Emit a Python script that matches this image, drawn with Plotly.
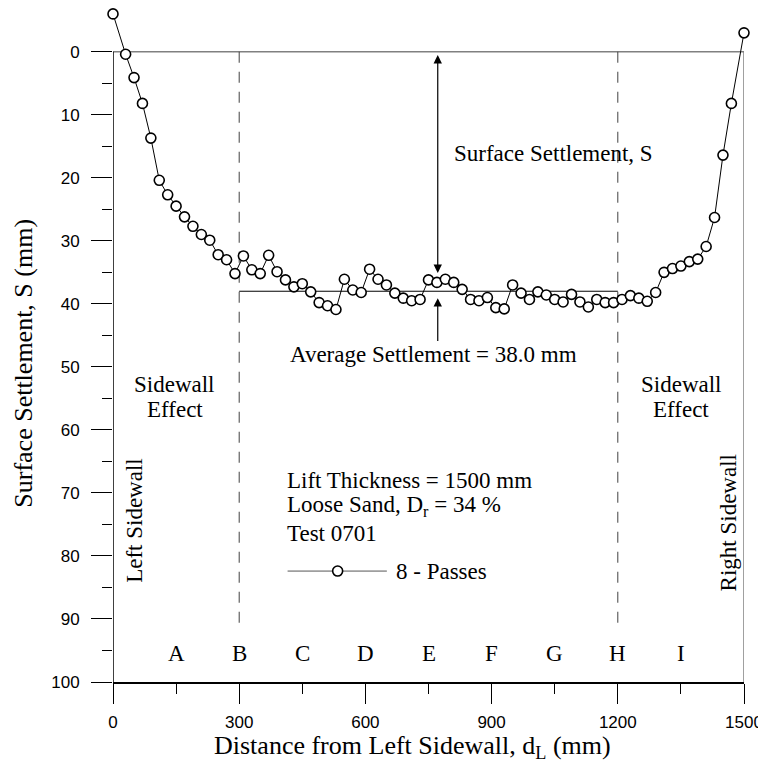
import plotly.graph_objects as go

# ---------------- data ----------------
distance_mm = [0, 30, 50, 70, 90, 110, 130, 150, 170, 190, 210, 230, 250, 270, 290,
               310, 330, 350, 370, 390, 410, 430, 450, 470, 490, 510, 530, 550, 570, 590,
               610, 630, 650, 670, 690, 710, 730, 750, 770, 790, 810, 830, 850, 870, 890,
               910, 930, 950, 970, 990, 1010, 1030, 1050, 1070, 1090, 1110, 1130, 1150, 1170, 1190,
               1210, 1230, 1250, 1270, 1290, 1310, 1330, 1350, 1370, 1390, 1410, 1430, 1450, 1470, 1500]
settlement_mm = [-6.0, 0.4, 4.1, 8.2, 13.7, 20.4, 22.7, 24.5, 26.2, 27.7, 29.0, 29.9, 32.2, 33.0, 35.2,
                 32.4, 34.6, 35.2, 32.3, 34.9, 36.2, 37.3, 36.8, 38.1, 39.8, 40.3, 40.9, 36.1, 37.8, 38.2,
                 34.5, 36.1, 37.0, 38.3, 39.1, 39.5, 39.3, 36.2, 36.6, 36.1, 36.6, 37.7, 39.3, 39.5, 39.0,
                 40.6, 40.8, 37.0, 38.3, 39.3, 38.1, 38.6, 39.3, 39.7, 38.5, 39.7, 40.5, 39.3, 39.8, 39.8,
                 39.3, 38.7, 39.1, 39.6, 38.2, 35.0, 34.4, 34.0, 33.3, 32.9, 30.9, 26.3, 16.4, 8.2, -3.0]

x_tick_vals = [0, 300, 600, 900, 1200, 1500]
x_minor_vals = [150, 450, 750, 1050, 1350]
y_tick_vals = [0, 10, 20, 30, 40, 50, 60, 70, 80, 90, 100]
y_minor_vals = [5, 15, 25, 35, 45, 55, 65, 75, 85, 95]

section_labels = ["A", "B", "C", "D", "E", "F", "G", "H", "I"]
section_positions = [150, 300, 450, 600, 750, 900, 1050, 1200, 1350]

average_settlement = 38.0
sidewall_zone_bounds = [300, 1200]
series_name = "8 - Passes"

SERIF = "Liberation Serif, Times New Roman, serif"
SANS = "Liberation Sans, Arial, sans-serif"
ANN = 23

fig = go.Figure()

# main series
fig.add_trace(go.Scatter(
    x=distance_mm, y=settlement_mm, mode="lines+markers", name=series_name,
    line=dict(color="black", width=1),
    marker=dict(symbol="circle", size=10, color="white", line=dict(color="black", width=1.6)),
    cliponaxis=False, showlegend=False))

# legend key marker
fig.add_trace(go.Scatter(
    x=[534], y=[82.4], mode="markers", showlegend=False, hoverinfo="skip",
    marker=dict(symbol="circle", size=10, color="white", line=dict(color="black", width=1.6)),
    cliponaxis=False))

shapes = []
# frame: left axis (black), top & right (gray)
shapes.append(dict(type="line", xref="x", yref="y", x0=0, x1=0, y0=0, y1=100,
                   line=dict(color="black", width=1.5), layer="above"))
shapes.append(dict(type="line", xref="x", yref="y", x0=0, x1=1500, y0=0, y1=0,
                   line=dict(color="#808080", width=1.5), layer="below"))
shapes.append(dict(type="line", xref="x", yref="y", x0=1500, x1=1500, y0=0, y1=100,
                   line=dict(color="#808080", width=1.5), layer="below"))
# sidewall-effect boundaries
for xb in sidewall_zone_bounds:
    shapes.append(dict(type="line", xref="x", yref="y", x0=xb, x1=xb, y0=0, y1=91.3,
                       line=dict(color="#404040", width=1, dash="11px,9px"), layer="below"))
# average settlement line
shapes.append(dict(type="line", xref="x", yref="y", x0=sidewall_zone_bounds[0], x1=sidewall_zone_bounds[1],
                   y0=average_settlement, y1=average_settlement,
                   line=dict(color="black", width=1), layer="below"))
# legend key line
shapes.append(dict(type="line", xref="x", yref="y", x0=415, x1=651, y0=82.4, y1=82.4,
                   line=dict(color="#555555", width=1), layer="below"))

ann = []
def txt(x, y, s, xanchor="center", size=ANN, angle=0, xref="x", yref="y"):
    ann.append(dict(x=x, y=y, xref=xref, yref=yref, text=s, showarrow=False,
                    xanchor=xanchor, yanchor="middle", textangle=angle,
                    font=dict(family=SERIF, size=size, color="black")))

# arrows
ann.append(dict(x=772, y=35.1, ax=772, ay=0.2, xref="x", yref="y", axref="x", ayref="y",
                text=" ", showarrow=True, arrowhead=2, startarrowhead=2, arrowside="end+start",
                arrowsize=1.4, startarrowsize=1.4, arrowwidth=1.2, arrowcolor="black",
                font=dict(size=1)))
ann.append(dict(x=772, y=39.1, ax=772, ay=46.2, xref="x", yref="y", axref="x", ayref="y",
                text=" ", showarrow=True, arrowhead=2, arrowsize=1.4, arrowwidth=1.2,
                arrowcolor="black", font=dict(size=1)))

txt(1047, 16.1, "Surface Settlement, S")
txt(762, 48.1, "Average Settlement = 38.0 mm")
txt(147, 52.8, "Sidewall")
txt(147, 56.8, "Effect")
txt(1351, 52.8, "Sidewall")
txt(1351, 56.8, "Effect")
txt(49.5, 74.3, "Left Sidewall", angle=-90)
txt(1464, 74.7, "Right Sidewall", angle=-90)
txt(409, 68.0, "Lift Thickness = 1500 mm", xanchor="left")
txt(409, 72.1, "Loose Sand, D<sub>r</sub> = 34 %", xanchor="left")
txt(409, 76.4, "Test 0701", xanchor="left")
txt(669, 82.4, series_name, xanchor="left")
for lab, pos in zip(section_labels, section_positions):
    txt(pos, 95.5, lab)

# axis titles
txt(712, -0.097, "Distance from Left Sidewall, d<sub>L</sub> (mm)", size=26, yref="paper")
txt(-0.1432, 49.4, "Surface Settlement, S (mm)", size=26, angle=-90, xref="paper")

fig.update_layout(
    width=758, height=759,
    margin=dict(l=105.3, r=22, t=0, b=85.3, autoexpand=False),
    paper_bgcolor="white", plot_bgcolor="white",
    showlegend=False,
    shapes=shapes, annotations=ann,
    xaxis=dict(range=[0, 1500], showgrid=False, zeroline=False,
               showline=True, linecolor="black", linewidth=1.5,
               tickvals=x_tick_vals, ticks="outside", ticklen=20, tickwidth=1.3, tickcolor="black",
               tickfont=dict(family=SANS, size=17, color="black"), ticklabelstandoff=4,
               ticklabeloverflow="allow",
               minor=dict(tickvals=x_minor_vals, ticks="outside", ticklen=10, tickwidth=1.3,
                          tickcolor="black", showgrid=False)),
    yaxis=dict(range=[100, -6.94], showgrid=False, zeroline=False, showline=False,
               tickvals=y_tick_vals, ticks="outside", ticklen=21, tickwidth=1.3, tickcolor="black",
               tickfont=dict(family=SANS, size=17, color="black"), ticklabelstandoff=8,
               minor=dict(tickvals=y_minor_vals, ticks="outside", ticklen=10, tickwidth=1.3,
                          tickcolor="black", showgrid=False)),
)

fig.write_html("out.html")
